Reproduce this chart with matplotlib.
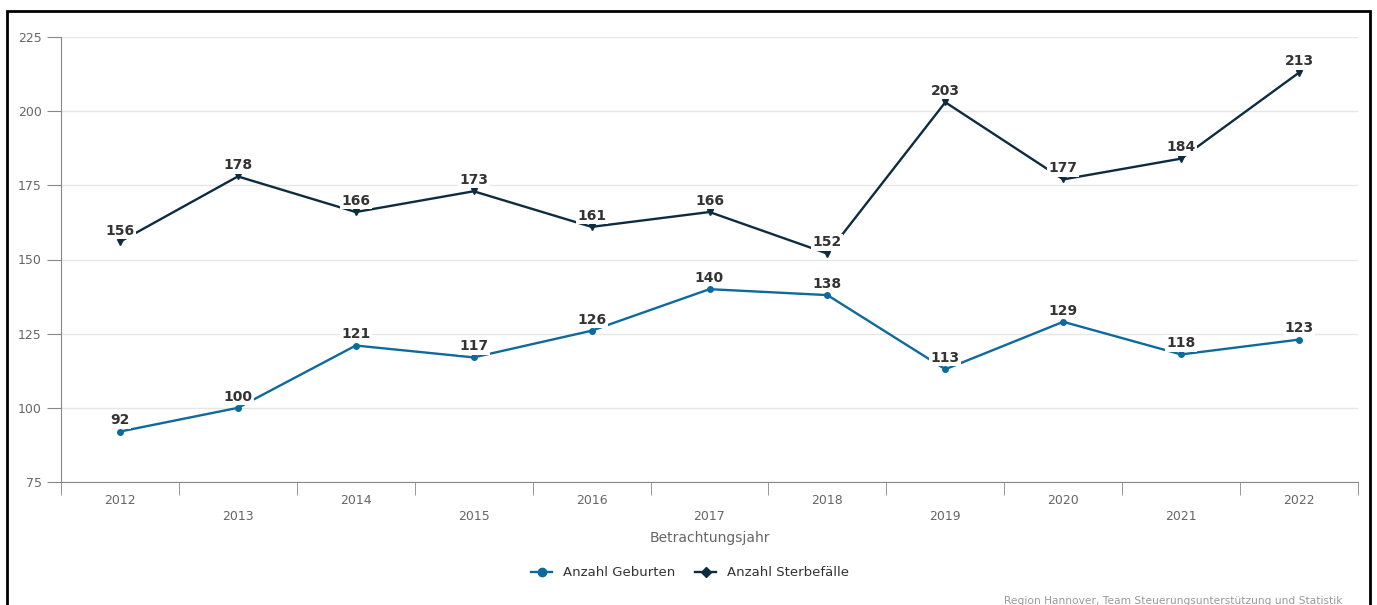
import matplotlib.pyplot as plt
import matplotlib.patches as patches

years = ["2012", "2013", "2014", "2015", "2016", "2017", "2018", "2019", "2020", "2021", "2022"]
geburten = [92, 100, 121, 117, 126, 140, 138, 113, 129, 118, 123]
sterbefaelle = [156, 178, 166, 173, 161, 166, 152, 203, 177, 184, 213]

blue = "#0e6a9c"
navy = "#0d2c40"
grey = "#666666"

fig = plt.figure(figsize=(13.77, 6.05), dpi=100)
ax = fig.add_axes([61 / 1377, 1 - 482 / 605, (1358 - 61) / 1377, (482 - 37) / 605])

x = list(range(len(years)))
ax.plot(x, geburten, color=blue, lw=1.7, marker="o", ms=4, label="Anzahl Geburten", zorder=3)
ax.plot(x, sterbefaelle, color=navy, lw=1.7, marker="v", ms=4, label="Anzahl Sterbefälle", zorder=3)

for series in (geburten, sterbefaelle):
    for xi, v in zip(x, series):
        ax.annotate(str(v), (xi, v), xytext=(0, 3), textcoords="offset points",
                    ha="center", va="bottom", fontsize=10, fontweight="bold", color="#333333",
                    bbox=dict(boxstyle="square,pad=0.1", fc="white", ec="none"), zorder=4)

ax.set_xlim(-0.5, len(years) - 0.5)
ax.set_ylim(75, 225)
ax.set_yticks([75, 100, 125, 150, 175, 200, 225])
ax.grid(axis="y", color="#e6e6e6", lw=1)
ax.set_axisbelow(True)

ax.set_xticks(x)
ax.set_xticklabels([y if i % 2 == 0 else "\n" + y for i, y in enumerate(years)])
ax.set_xticks([i - 0.5 for i in range(len(years) + 1)], minor=True)
ax.tick_params(axis="x", which="major", length=0, pad=9, labelsize=9, labelcolor=grey)
ax.tick_params(axis="x", which="minor", length=9, color="#888888")
ax.tick_params(axis="y", length=10, color="#888888", labelsize=9, labelcolor=grey, pad=4)

for s in ("top", "right"):
    ax.spines[s].set_visible(False)
ax.spines["left"].set_color("#888888")
ax.spines["bottom"].set_color("#888888")

ax.set_xlabel("Betrachtungsjahr", fontsize=10, color=grey, labelpad=6)

handles, labels = ax.get_legend_handles_labels()
leg_handles = [plt.Line2D([], [], color=blue, lw=1.7, marker="o", ms=6),
               plt.Line2D([], [], color=navy, lw=1.7, marker="D", ms=5)]
fig.legend(leg_handles, labels, loc="center", bbox_to_anchor=(690 / 1377, 1 - 573 / 605), ncol=2,
           frameon=False, fontsize=9.5, handlelength=1.6, columnspacing=1.5, labelcolor="#333333")

fig.text(1343 / 1377, 1 - 601 / 605, "Region Hannover, Team Steuerungsunterstützung und Statistik",
         ha="right", va="center", fontsize=7.7, color="#999999")

fig.patches.append(patches.Rectangle((7 / 1377, -0.1), (1370 - 7) / 1377, 1.1 - 11 / 605,
                                     transform=fig.transFigure, fill=False, ec="black", lw=2))

fig.savefig("out.png", dpi=100)
